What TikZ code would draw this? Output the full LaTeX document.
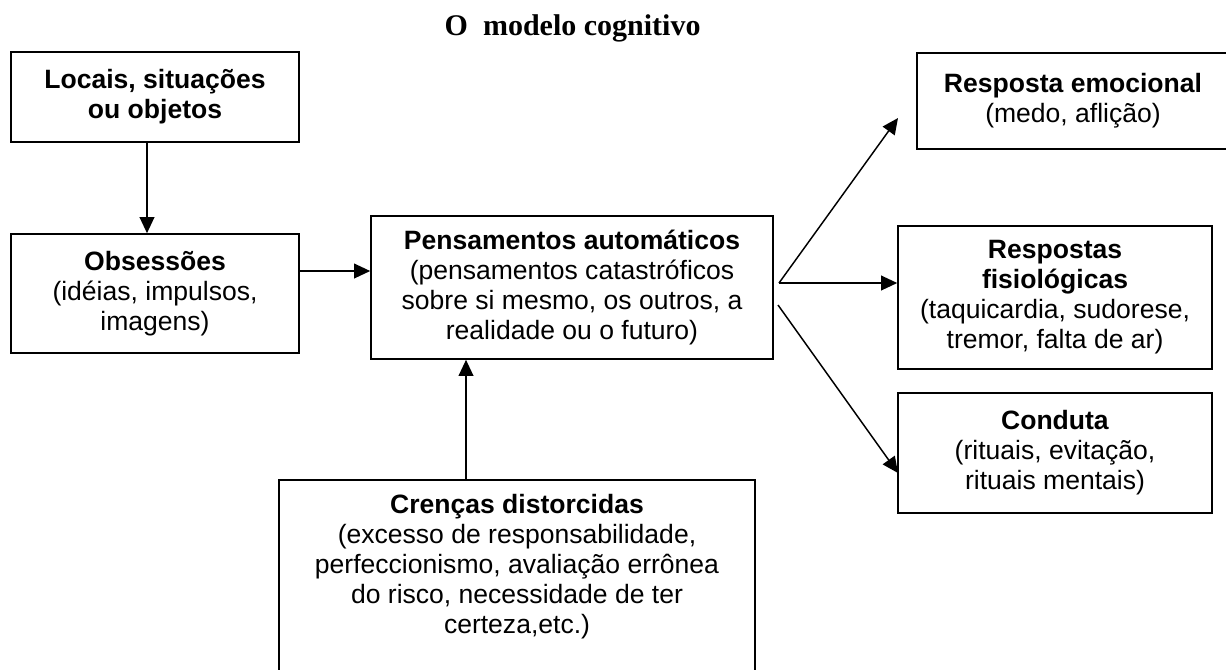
\documentclass[tikz,border=0pt]{standalone}
\usepackage{fontspec}
\setmainfont{Liberation Sans}
\newfontfamily\serifa{Liberation Serif}
\usetikzlibrary{arrows.meta}

\begin{document}
\begin{tikzpicture}[x=0.75pt,y=-0.75pt,
    caixa/.style={draw,line width=1.2pt,align=center,inner sep=0pt,
        font=\fontsize{19.9}{22.5}\selectfont},
    texto/.style={align=center,inner sep=0pt,font=\fontsize{19.9}{22.5}\selectfont},
    seta/.style={line width=1.1pt,-{Triangle[length=12pt,width=11pt]}},
    titulo/.style={font=\serifa\bfseries\fontsize{22.5}{27}\selectfont}]
    \useasboundingbox (0,0) rectangle (1226,669);
    \node[titulo,anchor=base west] (tit) at (440,35) {O\ \ modelo cognitivo};
    \node[caixa,minimum width=216pt,minimum height=67.5pt] (loc) at (155,97)
        {\textbf{Locais, situações}\\\textbf{ou objetos}};
    \node[caixa,minimum width=216pt,minimum height=89.25pt] (obs) at (155,293.5)
        {\textbf{Obsessões}\\(idéias, impulsos,\\imagens)};
    \node[caixa,minimum width=301.5pt,minimum height=107.25pt] (pen) at (572,287.5)
        {\textbf{Pensamentos automáticos}\\(pensamentos catastróficos\\sobre si mesmo, os outros, a\\realidade ou o futuro)};
    \node[caixa,minimum width=234pt,minimum height=72pt] (emo) at (1073,101)
        {\textbf{Resposta emocional}\\(medo, aflição)};
    \node[caixa,minimum width=235.5pt,minimum height=107.25pt] (fis) at (1055,297.5)
        {\textbf{Respostas}\\\textbf{fisiológicas}\\(taquicardia, sudorese,\\tremor, falta de ar)};
    \node[caixa,minimum width=235.5pt,minimum height=90pt] (con) at (1055,453)
        {\textbf{Conduta}\\(rituais, evitação,\\rituais mentais)};
    \node[caixa,minimum width=357pt,minimum height=165pt,anchor=north] (cren) at (517,479) {};
    \node[texto,anchor=north] (crentxt) at (517,494)
        {\textbf{Crenças distorcidas}\\(excesso de responsabilidade,\\perfeccionismo, avaliação errônea\\do risco, necessidade de ter\\certeza,etc.)};
    % pontos das setas
    \coordinate (nivel) at (0,271);
    \coordinate (saida) at (779,283);
    \coordinate (saida2) at (778,305);
    \coordinate (alvoemo) at (898,118);
    \coordinate (alvocon) at (898,473);
    \coordinate (eixo) at (466,0);
    \draw[seta] ([xshift=-6pt]loc.south) -- ([xshift=-6pt]obs.north);
    \draw[seta] (obs.east |- nivel) -- (pen.west |- nivel);
    \draw[seta] (saida) -- (alvoemo);
    \draw[seta] (saida) -- (fis.west |- saida);
    \draw[seta] (saida2) -- (alvocon);
    \draw[seta] (cren.north -| eixo) -- (pen.south -| eixo);
\end{tikzpicture}
\end{document}
